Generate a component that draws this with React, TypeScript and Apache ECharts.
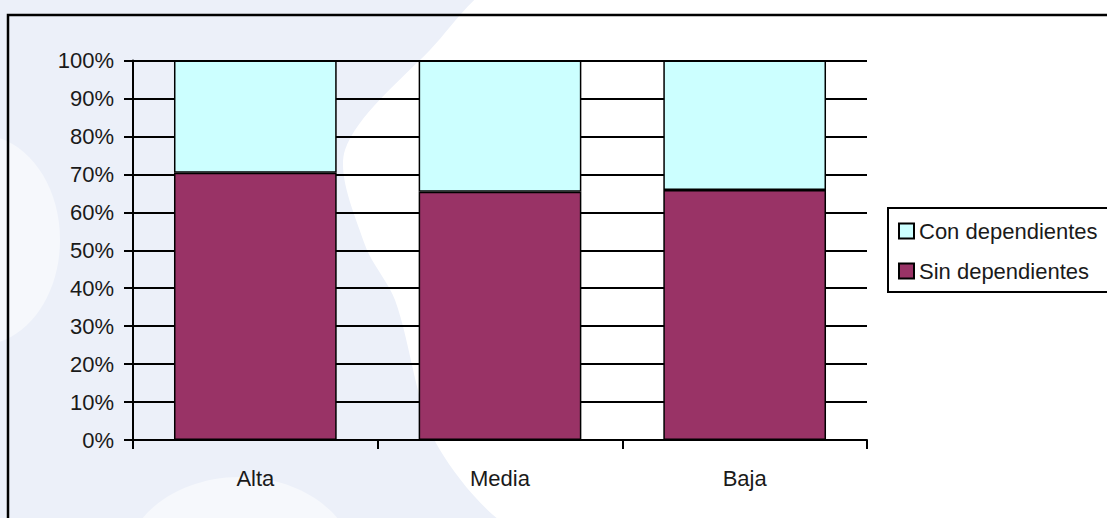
import React, { useEffect, useRef } from "react";
import * as echarts from "echarts";

const categories = ["Alta", "Media", "Baja"];
const sinDependientes = [70.4, 65.4, 65.9];
const conDependientes = [29.6, 34.6, 34.1];
const seriesNames = ["Con dependientes", "Sin dependientes"];

const FONT = "'Liberation Sans', Arial, sans-serif";

export default function App() {
  const ref = useRef<HTMLDivElement>(null);
  useEffect(() => {
    if (!ref.current) return;
    const chart = echarts.init(ref.current, null, { renderer: "svg" });
    chart.setOption({
      animation: false,
      backgroundColor: "#ECF0F9",
      graphic: [
        {
          type: "polygon",
          z: -10,
          silent: true,
          shape: {
            points: [
              [510, -20], [1140, -20], [1140, 540], [540, 540], [440, 450],
              [395, 300], [365, 245], [345, 150], [430, 50],
            ],
            smooth: 0.3,
          },
          style: { fill: "#FFFFFF" },
        },
        {
          type: "ellipse",
          z: -10,
          silent: true,
          shape: { cx: -20, cy: 240, rx: 80, ry: 105 },
          style: { fill: "#F6F8FC" },
        },
        {
          type: "ellipse",
          z: -10,
          silent: true,
          shape: { cx: 240, cy: 565, rx: 115, ry: 88 },
          style: { fill: "#F6F8FC" },
        },
        {
          type: "rect",
          z: 10,
          silent: true,
          shape: { x: 8, y: 15, width: 1200, height: 600 },
          style: { fill: "none", stroke: "#000", lineWidth: 2.5 },
        },
        {
          type: "rect",
          z: 10,
          silent: true,
          shape: { x: 888, y: 208, width: 230, height: 84 },
          style: { fill: "none", stroke: "#000", lineWidth: 2 },
        },
      ],
      grid: { left: 133, right: 240, top: 60.5, bottom: 78 },
      legend: {
        data: seriesNames,
        orient: "vertical",
        left: 898,
        top: 220,
        padding: 0,
        itemWidth: 15,
        itemHeight: 15,
        itemGap: 18,
        itemTextGap: 9,
        icon: "rect",
        textStyle: { fontFamily: FONT, fontSize: 22, color: "#1a1a1a" },
      },
      xAxis: {
        type: "category",
        data: categories,
        boundaryGap: true,
        axisLine: { lineStyle: { color: "#000", width: 2 } },
        axisTick: { show: true, length: 9, lineStyle: { color: "#000", width: 2 } },
        axisLabel: { fontFamily: FONT, fontSize: 22, color: "#1a1a1a", margin: 27 },
        splitLine: { show: false },
      },
      yAxis: {
        type: "value",
        min: 0,
        max: 100,
        interval: 10,
        axisLine: { show: true, lineStyle: { color: "#000", width: 2 } },
        axisTick: { show: true, length: 9, lineStyle: { color: "#000", width: 2 } },
        axisLabel: {
          fontFamily: FONT,
          fontSize: 22,
          color: "#1a1a1a",
          margin: 19,
          formatter: "{value}%",
        },
        splitLine: { show: true, lineStyle: { color: "#000", width: 2 } },
      },
      series: [
        {
          name: "Sin dependientes",
          type: "bar",
          stack: "total",
          data: sinDependientes,
          barWidth: "66.5%",
          itemStyle: { color: "#993366", borderColor: "#000", borderWidth: 1.5 },
        },
        {
          name: "Con dependientes",
          type: "bar",
          stack: "total",
          data: conDependientes,
          barWidth: "66.5%",
          itemStyle: { color: "#CCFFFF", borderColor: "#000", borderWidth: 1.5 },
        },
      ],
    });
    return () => chart.dispose();
  }, []);
  return (
    <div
      ref={ref}
      style={{ position: "fixed", left: 0, top: 0, width: 1107, height: 518 }}
    />
  );
}
